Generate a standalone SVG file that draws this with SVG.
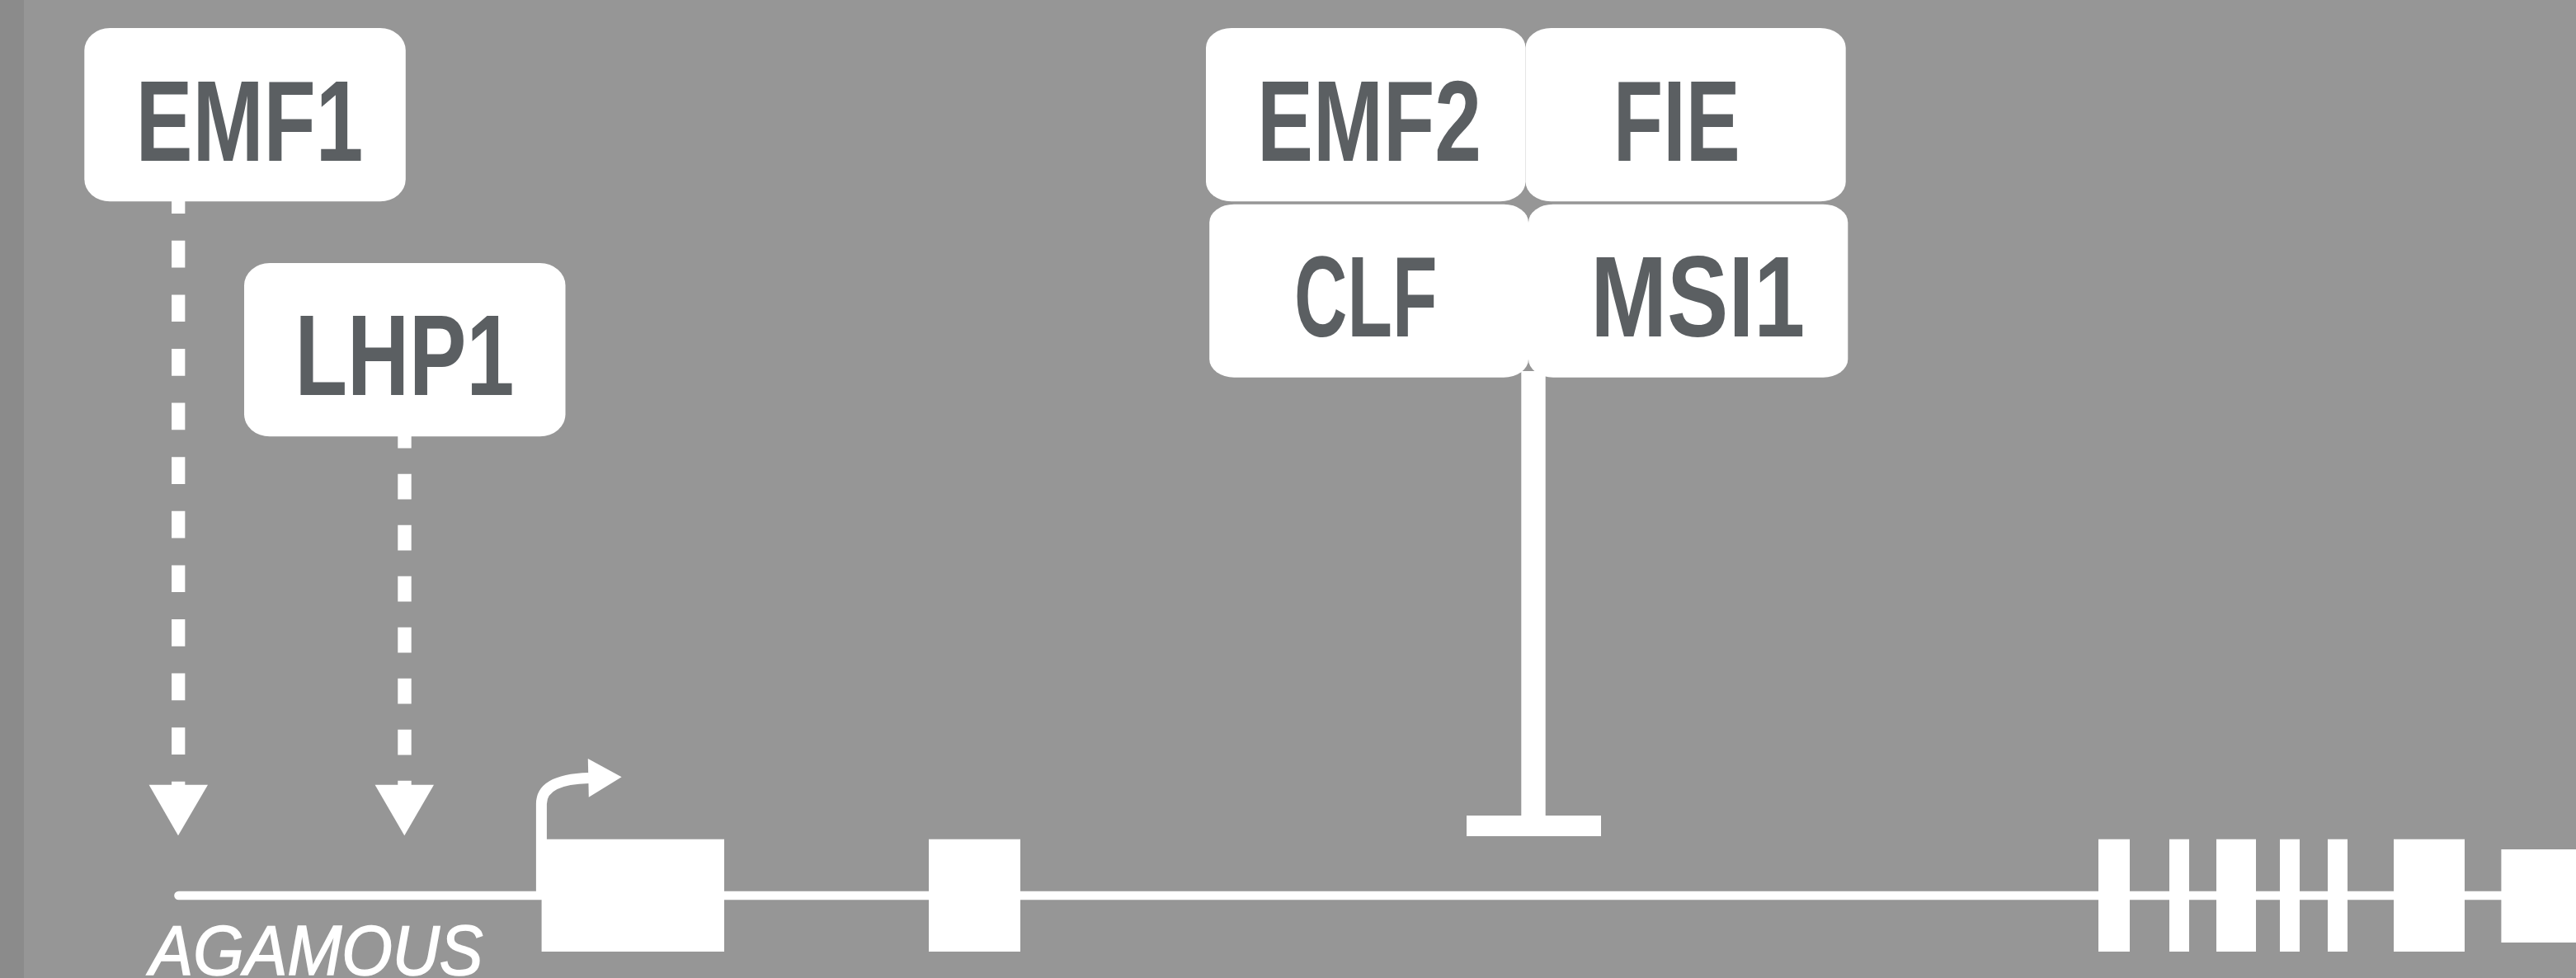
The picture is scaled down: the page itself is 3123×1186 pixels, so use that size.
<svg xmlns="http://www.w3.org/2000/svg" width="3123" height="1186" viewBox="0 0 3123 1186">
  <style>
    .box { fill: #ffffff; }
    .lbl { font-family: "Liberation Sans", Arial, sans-serif; font-weight: bold; font-size: 140px; fill: #5b5f62; }
    .gene { font-family: "Liberation Sans", Arial, sans-serif; font-style: italic; font-size: 85px; fill: #ffffff; stroke: #ffffff; stroke-width: 1.6px; }
    .dash { stroke: #ffffff; fill: none; }
    .white { fill: #ffffff; }
  </style>
  <rect x="0" y="0" width="3123" height="1186" fill="#969696"/>
  <rect x="0" y="0" width="29" height="1186" fill="#8b8b8b"/>

  <g id="connectors">
    <!-- EMF1 -> AGAMOUS (dashed activation) -->
    <line class="dash" x1="216.2" y1="226.2" x2="216.2" y2="952" stroke-width="16.3" stroke-dasharray="32.7 32.9"/>
    <polygon class="white" points="180.6,951.7 252,951.7 216,1013.3"/>
    <!-- LHP1 -> AGAMOUS (dashed activation) -->
    <line class="dash" x1="490.5" y1="512.7" x2="490.5" y2="952" stroke-width="16.4" stroke-dasharray="30.7 31.3"/>
    <polygon class="white" points="454.6,951.7 526,951.7 490.3,1013.3"/>
    <!-- PRC2 complex repression -->
    <rect class="white" x="1844.3" y="450" width="29.4" height="545"/>
    <rect class="white" x="1778" y="989" width="163" height="25"/>
  </g>

  <g id="gene-agamous">
    <line x1="216.5" y1="1086" x2="3123" y2="1086" stroke="#ffffff" stroke-width="10.6" stroke-linecap="round"/>
    <path d="M656.4 1091 V975 C656.4 955 676 944.5 714 943.5" fill="none" stroke="#ffffff" stroke-width="13"/>
    <polygon class="white" points="712.8,920 753.6,942.3 713.8,966.7"/>
    <rect class="white" x="656.6" y="1017.7" width="221.4" height="136.3"/>
    <rect class="white" x="1126" y="1017.7" width="111" height="136.3"/>
    <rect class="white" x="2544" y="1017.7" width="38" height="136.3"/>
    <rect class="white" x="2630" y="1017.7" width="24" height="136.3"/>
    <rect class="white" x="2687" y="1017.7" width="48" height="136.3"/>
    <rect class="white" x="2764" y="1017.7" width="24" height="136.3"/>
    <rect class="white" x="2822" y="1017.7" width="24" height="136.3"/>
    <rect class="white" x="2902" y="1017.7" width="86" height="136.3"/>
    <rect class="white" x="3032.4" y="1030" width="91" height="113"/>
    <text class="gene" x="181.6" y="1182" textLength="404" lengthAdjust="spacingAndGlyphs">AGAMOUS</text>
  </g>

  <g id="node-emf1">
    <rect class="box" x="102.3" y="34" width="389.5" height="210.3" rx="31" ry="27"/>
    <text class="lbl" x="164.4" y="194.6" textLength="276" lengthAdjust="spacingAndGlyphs">EMF1</text>
  </g>
  <g id="node-lhp1">
    <rect class="box" x="296" y="319" width="389.5" height="210.3" rx="31" ry="27"/>
    <text class="lbl" x="357.4" y="478.6" textLength="266" lengthAdjust="spacingAndGlyphs">LHP1</text>
  </g>
  <g id="node-emf2">
    <rect class="box" x="1462" y="34" width="387.5" height="210.3" rx="31" ry="24"/>
    <text class="lbl" x="1524" y="194.7" textLength="272" lengthAdjust="spacingAndGlyphs">EMF2</text>
  </g>
  <g id="node-fie">
    <rect class="box" x="1849.5" y="34" width="388.2" height="210.3" rx="31" ry="24"/>
    <text class="lbl" x="1955.8" y="194.7" textLength="153.8" lengthAdjust="spacingAndGlyphs">FIE</text>
  </g>
  <g id="node-clf">
    <rect class="box" x="1466.2" y="247.7" width="386.8" height="210" rx="30" ry="22"/>
    <text class="lbl" x="1569" y="408" textLength="173.4" lengthAdjust="spacingAndGlyphs">CLF</text>
  </g>
  <g id="node-msi1">
    <rect class="box" x="1853" y="247.7" width="387.3" height="210" rx="30" ry="22"/>
    <text class="lbl" x="1928.3" y="408" textLength="260" lengthAdjust="spacingAndGlyphs">MSI1</text>
  </g>
</svg>
